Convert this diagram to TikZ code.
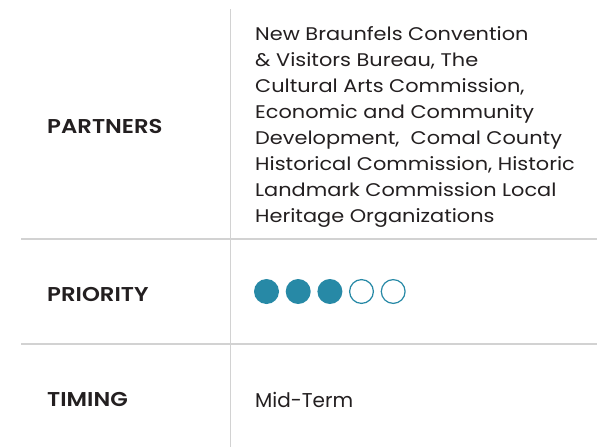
\documentclass[tikz,border=0pt]{standalone}
\usepackage{fontspec}
\setmainfont{Poppins}
\newfontfamily\labelfont{Poppins}[UprightFont=* SemiBold,FakeStretch=1.14]
\newfontfamily\bodyfont{Poppins}[FakeStretch=1.14]
\definecolor{rule}{HTML}{D2D2D2}
\definecolor{ink}{HTML}{231F20}
\definecolor{teal}{HTML}{2789A6}
\begin{document}
\begin{tikzpicture}[x=1pt,y=-1pt,
  label/.style={anchor=base west,inner sep=0,text=ink,font=\labelfont\fontsize{20}{24}\selectfont},
  body/.style={anchor=base west,inner sep=0,text=ink,align=left,font=\bodyfont\fontsize{18.3}{26}\selectfont},
  timebody/.style={anchor=base west,inner sep=0,text=ink,font=\fontsize{20}{24}\selectfont},
  rulel/.style={draw=rule,line width=2pt},
  dotfull/.style={circle,fill=teal,inner sep=0,minimum size=25pt},
  dotempty/.style={circle,draw=teal,line width=1.2pt,fill=white,inner sep=0,minimum size=23.8pt}]
\useasboundingbox[fill=white] (0,0) rectangle (597,447);
% rules
\coordinate (vtop) at (230.5,9);
\coordinate (vbot) at (230.5,447);
\coordinate (h1l) at (21,238.7);
\coordinate (h1r) at (597,238.7);
\coordinate (h2l) at (21,343.7);
\coordinate (h2r) at (597,343.7);
\draw[draw=rule,line width=1.5pt] (vtop) -- (vbot);
\draw[rulel] (h1l) -- (h1r);
\draw[rulel] (h2l) -- (h2r);
% labels
\node[label] (partners) at (47,133.3) {PARTNERS};
\node[label] (priority) at (47,301) {PRIORITY};
\node[label] (timing) at (47,406.7) {TIMING};
% partners text (anchored at the baseline of its last line)
\node[body] (partnerstext) at (255,222.7) {New Braunfels Convention\\
\& Visitors Bureau, The\\
Cultural Arts Commission,\\
Economic and Community\\
Development,\ \ Comal County\\
Historical Commission, Historic\\
Landmark Commission Local\\
Heritage Organizations};
% priority dots
\node[dotfull] (d1) at (266.5,291.5) {};
\node[dotfull] (d2) at (298.2,291.5) {};
\node[dotfull] (d3) at (329.9,291.5) {};
\node[dotempty] (d4) at (361.5,291.5) {};
\node[dotempty] (d5) at (393.2,291.5) {};
% timing
\node[timebody] (timingtext) at (255,407) {Mid-Term};
\end{tikzpicture}
\end{document}
